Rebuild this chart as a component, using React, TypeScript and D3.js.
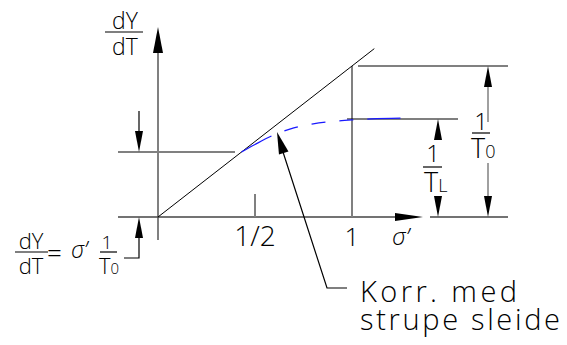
import React from "react";
import * as d3 from "d3";

// data (units: sigma' on x, dY/dT in multiples of 1/T0 on y)
const xTickValues = [0.5, 1];
const xTickLabels = ["1/2", "1"];
const diagonalX = [0, 1.115];
const levelStart = 0.43; // left horizontal level where correction starts
const levelTL = 0.649; // 1/TL
const levelT0 = 1; // 1/T0
const curveX = [0.43, 0.5, 0.6, 0.7, 0.8, 0.9, 1.0, 1.1, 1.25];
const curveY = [0.43, 0.48, 0.545, 0.59, 0.617, 0.633, 0.643, 0.65, 0.655];

const W = 567;
const H = 345;

const x = d3.scaleLinear().domain([0, 1]).range([158, 352]);
const y = d3.scaleLinear().domain([0, 1]).range([217, 66]);

function arrowPts(tx: number, ty: number, dx: number, dy: number, len: number, hw: number) {
  const n = Math.hypot(dx, dy);
  const ux = dx / n, uy = dy / n;
  const bx = tx - ux * len, by = ty - uy * len;
  const px = -uy, py = ux;
  return `${tx},${ty} ${bx + px * hw},${by + py * hw} ${bx - px * hw},${by - py * hw}`;
}

const FONT = "'Open Sans', 'DejaVu Sans', sans-serif";
const GREY = "#808080";

export default function App() {
  const x0 = x(0), y0 = y(0);
  const line = d3.line<number>().x((d, i) => x(curveX[i])).y((d) => y(d)).curve(d3.curveMonotoneX);
  const curvePath = line(curveY) || "";
  const tx = { fontFamily: FONT, fontWeight: 300, fill: "#000" } as React.CSSProperties;

  return (
    <svg width={W} height={H} style={{ position: "absolute", left: 0, top: 0, background: "#fff" }}>
      {/* y axis */}
      <line x1={x0} y1={50} x2={x0} y2={240} stroke={GREY} strokeWidth={2} />
      <polygon points={arrowPts(x0, 27, 0, -1, 26, 5)} fill="#000" />
      {/* x axis */}
      <line x1={118} y1={y0} x2={400} y2={y0} stroke="#444" strokeWidth={1.5} />
      <polygon points={arrowPts(423, y0, 1, 0, 28, 4)} fill="#000" />
      {/* right extension at y0 */}
      <line x1={430} y1={y0} x2={508} y2={y0} stroke="#444" strokeWidth={1.5} />
      {/* x ticks */}
      <line x1={x(0.5)} y1={194} x2={x(0.5)} y2={y0} stroke={GREY} strokeWidth={2} />
      <line x1={x(1)} y1={y(levelT0)} x2={x(1)} y2={y0} stroke={GREY} strokeWidth={2} />
      {xTickValues.map((v, i) => (
        <text key={i} x={x(v)} y={246} textAnchor="middle" style={tx} fontSize={i === 0 ? 28 : 26}>
          {xTickLabels[i]}
        </text>
      ))}
      <text x={392} y={245} style={{ ...tx, fontStyle: "italic" }} fontSize={24}>σ’</text>

      {/* diagonal */}
      <line x1={x(diagonalX[0])} y1={y(diagonalX[0])} x2={x(diagonalX[1])} y2={y(diagonalX[1])} stroke="#000" strokeWidth={1} />

      {/* left level line */}
      <line x1={118} y1={y(levelStart)} x2={235} y2={y(levelStart)} stroke={GREY} strokeWidth={2} />
      {/* 1/TL line */}
      <line x1={x(1) - 5} y1={y(levelTL)} x2={458} y2={y(levelTL)} stroke="#000" strokeWidth={1.2} />
      {/* 1/T0 line */}
      <line x1={358} y1={y(levelT0)} x2={508} y2={y(levelT0)} stroke={GREY} strokeWidth={2} />

      {/* correction curve */}
      <path d={curvePath} fill="none" stroke="#1a1aff" strokeWidth={1.3} strokeDasharray="34 14 14 14 14 14 14 14 40" />

      {/* leader to label */}
      <polygon points={arrowPts(277, 132, -50, -156, 22, 5)} fill="#000" />
      <polyline points="283,152 327,288 347,288" fill="none" stroke="#000" strokeWidth={1.2} />
      <text x={360} y={302} style={tx} fontSize={29} textLength={157} lengthAdjust="spacing">Korr.  med</text>
      <text x={360} y={330} style={tx} fontSize={29} textLength={200} lengthAdjust="spacing">strupe sleide</text>

      {/* left dimension arrows */}
      <line x1={139} y1={111} x2={139} y2={132} stroke="#000" strokeWidth={1.2} />
      <polygon points={arrowPts(139, y(levelStart), 0, 1, 21, 4)} fill="#000" />
      <polyline points={`139,237 139,258 124,258`} fill="none" stroke="#000" strokeWidth={1.2} />
      <polygon points={arrowPts(139, y0, 0, -1, 21, 4)} fill="#000" />

      {/* right dimension 1/TL */}
      <polygon points={arrowPts(438, y(levelTL), 0, -1, 21, 4)} fill="#000" />
      <polygon points={arrowPts(438, y0, 0, 1, 21, 4)} fill="#000" />
      <text x={433} y={162} textAnchor="middle" style={tx} fontSize={24}>1</text>
      <line x1={423} y1={167} x2={442} y2={167} stroke="#000" strokeWidth={1.2} />
      <text x={424} y={192} style={tx} fontSize={27}>T<tspan fontSize={18}>L</tspan></text>

      {/* right dimension 1/T0 */}
      <line x1={488} y1={87} x2={488} y2={122} stroke={GREY} strokeWidth={1.5} />
      <line x1={488} y1={163} x2={488} y2={197} stroke={GREY} strokeWidth={1.5} />
      <polygon points={arrowPts(488, y(levelT0), 0, -1, 21, 4)} fill="#000" />
      <polygon points={arrowPts(488, y0, 0, 1, 21, 4)} fill="#000" />
      <text x={481} y={130} textAnchor="middle" style={tx} fontSize={24}>1</text>
      <line x1={472} y1={133} x2={490} y2={133} stroke="#000" strokeWidth={1.2} />
      <text x={471} y={158} style={tx} fontSize={27}>T<tspan fontSize={18}>0</tspan></text>

      {/* top y label */}
      <text x={125} y={29} textAnchor="middle" style={tx} fontSize={23}>dY</text>
      <line x1={105} y1={32} x2={143} y2={32} stroke="#000" strokeWidth={1.2} />
      <text x={125} y={55} textAnchor="middle" style={tx} fontSize={23}>dT</text>

      {/* bottom-left formula */}
      <text x={31} y={249} textAnchor="middle" style={tx} fontSize={22}>dY</text>
      <line x1={15} y1={252} x2={48} y2={252} stroke="#000" strokeWidth={1.2} />
      <text x={31} y={274} textAnchor="middle" style={tx} fontSize={22}>dT</text>
      <text x={47} y={262} style={tx} fontSize={26}>=</text>
      <text x={71} y={258} style={{ ...tx, fontStyle: "italic" }} fontSize={23}>σ’</text>
      <text x={107} y={249} textAnchor="middle" style={tx} fontSize={19}>1</text>
      <line x1={100} y1={252} x2={117} y2={252} stroke="#000" strokeWidth={1.2} />
      <text x={99} y={274} style={tx} fontSize={22}>T<tspan fontSize={15}>0</tspan></text>
    </svg>
  );
}
